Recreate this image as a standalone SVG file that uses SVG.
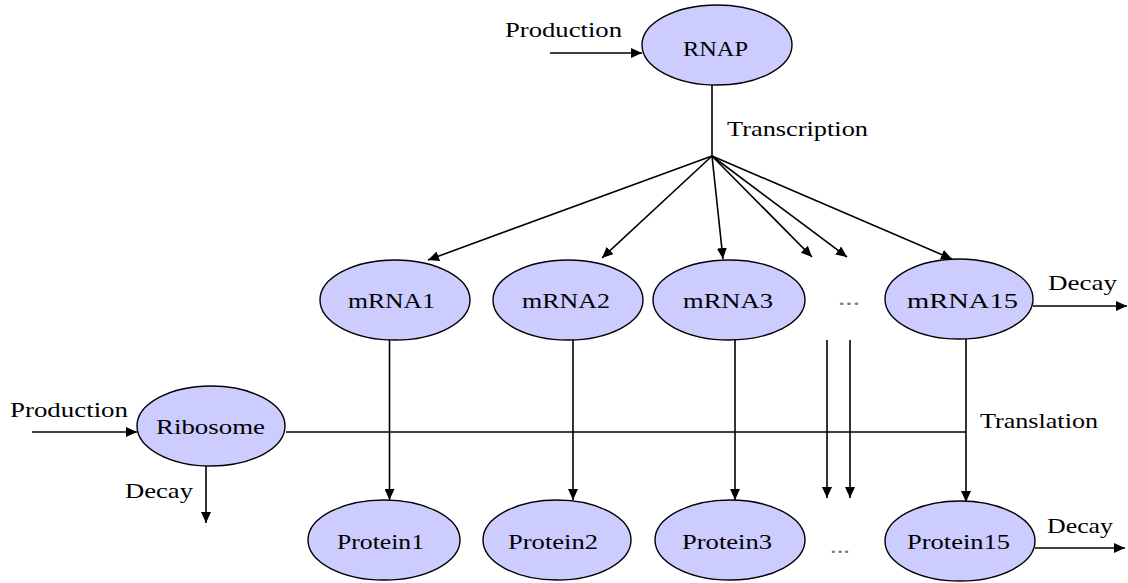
<svg xmlns="http://www.w3.org/2000/svg" width="1128" height="583" viewBox="0 0 1128 583">
<defs>
<marker id="ah" markerUnits="userSpaceOnUse" markerWidth="12" markerHeight="10" refX="11" refY="5" orient="auto"><path d="M0,0 L11,5 L0,10 z" fill="#000"/></marker>
<style>
.n{fill:#CCCCFF;stroke:#000;stroke-width:1.4}
.t{font-family:"Liberation Serif","Times New Roman",serif;font-size:21px;fill:#000}
.g{fill:#777}
.c line{stroke:#000;stroke-width:1.6;fill:none}
.a{marker-end:url(#ah)}
</style>
</defs>
<rect width="1128" height="583" fill="#fff"/>
<g id="connectors" class="c">
<line class="a" x1="550" y1="53" x2="642" y2="53"/>
<line x1="712" y1="85" x2="712" y2="156"/>
<line class="a" x1="712" y1="156" x2="428" y2="260"/>
<line class="a" x1="712" y1="156" x2="602" y2="258"/>
<line class="a" x1="712" y1="156" x2="723" y2="259"/>
<line class="a" x1="712" y1="156" x2="812" y2="257"/>
<line class="a" x1="712" y1="156" x2="847" y2="257"/>
<line class="a" x1="712" y1="156" x2="952" y2="259"/>
<line class="a" x1="1033" y1="306" x2="1127" y2="306"/>
<line class="a" x1="32" y1="432" x2="137" y2="432"/>
<line class="a" x1="206" y1="466" x2="206" y2="523"/>
<line x1="286" y1="432" x2="966" y2="432"/>
<line class="a" x1="389.5" y1="340" x2="389.5" y2="500"/>
<line class="a" x1="573" y1="340" x2="573" y2="500"/>
<line class="a" x1="735" y1="340" x2="735" y2="500"/>
<line class="a" x1="827" y1="340" x2="827" y2="498"/>
<line class="a" x1="850" y1="340" x2="850" y2="498"/>
<line class="a" x1="966" y1="339" x2="966" y2="502"/>
<line class="a" x1="1035" y1="548" x2="1125" y2="548"/>
</g>
<g id="labels">
<text class="t" x="505" y="37" textLength="117" lengthAdjust="spacingAndGlyphs">Production</text>
<text class="t" x="727" y="136" textLength="141" lengthAdjust="spacingAndGlyphs">Transcription</text>
<text class="t" x="1048" y="290" textLength="69" lengthAdjust="spacingAndGlyphs">Decay</text>
<text class="t" x="10" y="417" textLength="118" lengthAdjust="spacingAndGlyphs">Production</text>
<text class="t" x="125" y="498" textLength="68" lengthAdjust="spacingAndGlyphs">Decay</text>
<text class="t" x="980" y="428" textLength="118" lengthAdjust="spacingAndGlyphs">Translation</text>
<text class="t" x="1047" y="533" textLength="66" lengthAdjust="spacingAndGlyphs">Decay</text>
<text class="t g" x="838" y="305" textLength="22" lengthAdjust="spacingAndGlyphs">...</text>
<text class="t g" x="830" y="553" textLength="20" lengthAdjust="spacingAndGlyphs">...</text>
</g>
<g id="RNAP"><ellipse class="n" cx="717" cy="45" rx="75" ry="40"/><text class="t" x="683" y="56" textLength="65" lengthAdjust="spacingAndGlyphs">RNAP</text></g>
<g id="mRNA1"><ellipse class="n" cx="395" cy="300" rx="75" ry="40"/><text class="t" x="348" y="308" textLength="87" lengthAdjust="spacingAndGlyphs">mRNA1</text></g>
<g id="mRNA2"><ellipse class="n" cx="568" cy="300" rx="75" ry="40"/><text class="t" x="522" y="308" textLength="88" lengthAdjust="spacingAndGlyphs">mRNA2</text></g>
<g id="mRNA3"><ellipse class="n" cx="729" cy="300" rx="76" ry="40"/><text class="t" x="683" y="308" textLength="90" lengthAdjust="spacingAndGlyphs">mRNA3</text></g>
<g id="mRNA15"><ellipse class="n" cx="959" cy="299" rx="74" ry="40"/><text class="t" x="907" y="308" textLength="111" lengthAdjust="spacingAndGlyphs">mRNA15</text></g>
<g id="Ribosome"><ellipse class="n" cx="211" cy="426" rx="74" ry="40"/><text class="t" x="156" y="434" textLength="109" lengthAdjust="spacingAndGlyphs">Ribosome</text></g>
<g id="Protein1"><ellipse class="n" cx="384" cy="540" rx="76" ry="40"/><text class="t" x="337" y="549" textLength="87" lengthAdjust="spacingAndGlyphs">Protein1</text></g>
<g id="Protein2"><ellipse class="n" cx="557" cy="540" rx="74" ry="40"/><text class="t" x="508" y="549" textLength="90" lengthAdjust="spacingAndGlyphs">Protein2</text></g>
<g id="Protein3"><ellipse class="n" cx="730" cy="540" rx="75" ry="40"/><text class="t" x="682" y="549" textLength="90" lengthAdjust="spacingAndGlyphs">Protein3</text></g>
<g id="Protein15"><ellipse class="n" cx="960" cy="541" rx="75" ry="40"/><text class="t" x="907" y="549" textLength="103" lengthAdjust="spacingAndGlyphs">Protein15</text></g>
</svg>
